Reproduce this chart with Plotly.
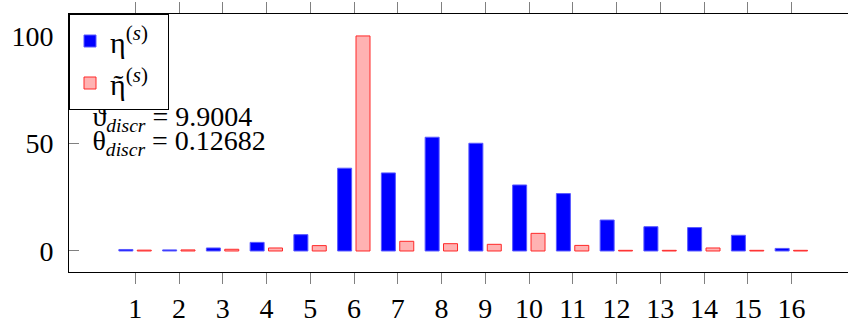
import plotly.graph_objects as go

# Discrete distribution over 16 states
states = list(range(1, 17))
eta = [0.7, 0.5, 1.4, 4.0, 7.6, 38.5, 36.3, 52.9, 50.1, 30.7, 26.7, 14.4, 11.3, 10.9, 7.3, 1.2]
eta_tilde = [0.4, 0.5, 0.8, 1.4, 2.5, 100.0, 4.5, 3.4, 3.1, 8.2, 2.6, 0.3, 0.3, 1.4, 0.3, 0.3]
tick_labels = [str(s) for s in states]

vartheta_discr = "9.9004"
theta_discr = "0.12682"

FONT = "Liberation Serif"
BAR_W = 0.32
PAD = "\u00a0\u00a0"

fig = go.Figure()
fig.add_trace(go.Bar(
    x=states, y=eta, name="η<sup>(<i>s</i>)</sup>" + PAD,
    width=BAR_W, offset=-0.375,
    marker=dict(color="rgb(0,0,255)", line=dict(color="rgb(90,90,255)", width=1)),
))
fig.add_trace(go.Bar(
    x=states, y=eta_tilde, name="ῆ<sup>(<i>s</i>)</sup>" + PAD,
    width=BAR_W, offset=0.045,
    marker=dict(color="rgb(255,178,178)", line=dict(color="rgb(255,40,40)", width=1)),
))

# Parameter readout, placed as a text trace so the legend box sits above it
fig.add_trace(go.Scatter(
    x=[0.02, 0.02], y=[61.2, 50.2], mode="text",
    text=["ϑ<sub><i>discr</i></sub> = " + vartheta_discr,
          "θ<sub><i>discr</i></sub> = " + theta_discr],
    textposition="middle right",
    textfont=dict(family=FONT, size=28, color="black"),
    showlegend=False, hoverinfo="skip", cliponaxis=False,
))

fig.update_layout(
    width=848, height=324,
    margin=dict(l=69, r=0, t=14, b=52),
    paper_bgcolor="white", plot_bgcolor="white",
    barmode="overlay",
    font=dict(family=FONT, size=28, color="black"),
    showlegend=True,
    legend=dict(
        x=0, y=1, xanchor="left", yanchor="top",
        bgcolor="white", bordercolor="black", borderwidth=1,
        font=dict(family=FONT, size=30, color="black"),
        itemwidth=30, tracegroupgap=0,
    ),
    xaxis=dict(
        range=[-0.515, 17.29], tickmode="array", tickvals=states, ticktext=tick_labels,
        showline=True, linecolor="black", linewidth=1, mirror="allticks",
        ticks="outside", ticklen=11, tickcolor="gray", tickwidth=1,
        showgrid=False, zeroline=False,
    ),
    yaxis=dict(
        range=[-9.77, 110.2], tickmode="array", tickvals=[0, 50, 100],
        showline=True, linecolor="black", linewidth=1,
        ticks="inside", ticklen=10, tickcolor="gray", tickwidth=1,
        ticklabelstandoff=9,
        showgrid=False, zeroline=False,
    ),
)

fig.write_html("out.html")
